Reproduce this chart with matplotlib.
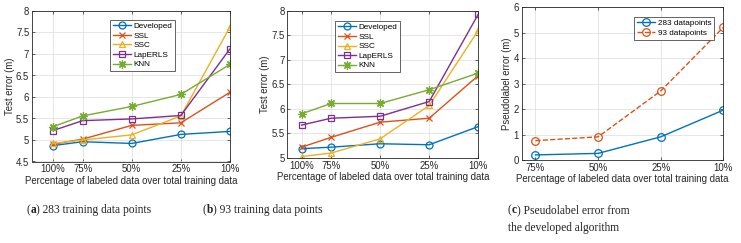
import matplotlib
matplotlib.use("Agg")
import matplotlib.pyplot as plt

# ---------------- data ----------------
labels_ab = ["100%", "75%", "50%", "25%", "10%"]
labels_c = ["75%", "50%", "25%", "10%"]
series_names = ["Developed", "SSL", "SSC", "LapERLS", "KNN"]

a_developed = [4.87, 4.96, 4.92, 5.13, 5.20]
a_ssl = [4.90, 5.02, 5.34, 5.40, 6.11]
a_ssc = [4.92, 5.00, 5.12, 5.56, 7.63]
a_laperls = [5.22, 5.45, 5.49, 5.57, 7.12]
a_knn = [5.31, 5.56, 5.78, 6.06, 6.76]

b_developed = [5.19, 5.22, 5.29, 5.27, 5.64]
b_ssl = [5.22, 5.42, 5.73, 5.81, 6.68]
b_ssc = [5.03, 5.10, 5.39, 6.07, 7.60]
b_laperls = [5.67, 5.81, 5.85, 6.15, 7.93]
b_knn = [5.90, 6.11, 6.11, 6.39, 6.73]

c_283 = [0.20, 0.26, 0.91, 1.96]
c_93 = [0.76, 0.91, 2.71, 5.21]

caption_letters = ["a", "b", "c"]
captions = ["283 training data points", "93 training data points",
            "Pseudolabel error from\nthe developed algorithm"]

# ---------------- style ----------------
plt.rcParams["font.family"] = ["Liberation Sans", "DejaVu Sans"]
colors = ["#0072BD", "#D95319", "#EDB120", "#7E2F8E", "#77AC30"]
markers = ["o", "x", "^", "s", (8, 2, 0)]
W, H = 741, 243
fig = plt.figure(figsize=(W / 100, H / 100), dpi=100)
TXT = "#262626"
FS = 6.9

def ax_px(l, t, r, b):
    return fig.add_axes([l / W, 1 - b / H, (r - l) / W, (b - t) / H])

def style(ax):
    for s in ax.spines.values():
        s.set_color(TXT)
        s.set_linewidth(0.6)
    ax.tick_params(direction="in", length=2, width=0.5, labelsize=FS,
                   colors=TXT, top=True, right=True, pad=2)
    ax.grid(True, color="#dcdcdc", linewidth=0.5)
    ax.set_axisbelow(True)
    ax.set_xlabel("Percentage of labeled data over total training data",
                  fontsize=FS, color=TXT, labelpad=1)

def legend(ax, **kw):
    leg = ax.legend(fontsize=5.9, frameon=True, fancybox=False, edgecolor=TXT,
                    borderpad=0.35, labelspacing=0.22, handlelength=2.2,
                    handletextpad=0.3, framealpha=1, **kw)
    leg.get_frame().set_linewidth(0.5)

def plot_panel(ax, xpos, data, labels):
    for name, vals, c, m in zip(series_names, data, colors, markers):
        ms = 5 if m != markers[4] else 6
        ax.plot(xpos, vals, color=c, marker=m, markersize=ms, markerfacecolor="none",
                markeredgewidth=0.9, linewidth=1.0, label=name)
    ax.set_xticks(xpos)
    ax.set_xticklabels(labels)

xab = [0, 0.6, 1.6, 2.6, 3.6]

# panel a
axa = ax_px(32, 11, 230, 161.5)
plot_panel(axa, xab, [a_developed, a_ssl, a_ssc, a_laperls, a_knn], labels_ab)
axa.set_xlim(-0.43, 3.6)
axa.set_ylim(4.5, 8)
axa.set_yticks([4.5, 5, 5.5, 6, 6.5, 7, 7.5, 8])
axa.set_yticklabels(["4.5", "5", "5.5", "6", "6.5", "7", "7.5", "8"])
axa.set_ylabel("Test error (m)", fontsize=FS, color=TXT, labelpad=1)
style(axa)
legend(axa, loc="upper left", bbox_to_anchor=(0.375, 0.97))

# panel b
axb = ax_px(287.3, 10.7, 478.3, 158)
plot_panel(axb, xab, [b_developed, b_ssl, b_ssc, b_laperls, b_knn], labels_ab)
axb.set_xlim(-0.29, 3.6)
axb.set_ylim(5, 8)
axb.set_yticks([5, 5.5, 6, 6.5, 7, 7.5, 8])
axb.set_yticklabels(["5", "5.5", "6", "6.5", "7", "7.5", "8"])
axb.set_ylabel("Test error (m)", fontsize=FS, color=TXT, labelpad=1)
style(axb)
legend(axb, loc="upper left", bbox_to_anchor=(0.23, 0.96))

# panel c
axc = ax_px(521.7, 7.3, 723.3, 160)
xc = [0, 1, 2, 3]
axc.plot(xc, c_283, color=colors[0], marker="o", markersize=5.5, markerfacecolor="none",
         markeredgewidth=0.9, linewidth=1.0, label="283 datapoints")
axc.plot(xc, c_93, color=colors[1], marker="o", markersize=5.5, markerfacecolor="none",
         markeredgewidth=0.9, linewidth=1.0, linestyle="--", label="93 datapoints")
axc.set_xticks(xc)
axc.set_xticklabels(labels_c)
axc.set_xlim(-0.22, 3.0)
axc.set_ylim(0, 6)
axc.set_yticks(range(0, 7))
axc.set_ylabel("Pseudolabel error (m)", fontsize=FS, color=TXT, labelpad=1)
style(axc)
legend(axc, loc="upper right", bbox_to_anchor=(0.975, 0.965))

# captions (built from separate text pieces so the letter can be bold)
serif = ["Liberation Serif", "DejaVu Serif"]
CFS = 8.3
cap_x = [27, 203, 508]
fig.canvas.draw()
renderer = fig.canvas.get_renderer()

def cap(x, y, letter, rest):
    t1 = fig.text(x / W, 1 - y / H, "(", fontsize=CFS, family=serif,
                  va="center", ha="left", color="#222222")
    bb = t1.get_window_extent(renderer)
    t2 = fig.text(bb.x1 / W, 1 - y / H, letter, fontsize=CFS, family=serif,
                  weight="bold", va="center", ha="left", color="#222222")
    bb = t2.get_window_extent(renderer)
    fig.text(bb.x1 / W, 1 - y / H, ") " + rest, fontsize=CFS, family=serif,
             va="center", ha="left", color="#222222")

for i in range(3):
    lines = captions[i].split("\n")
    cap(cap_x[i], 210, caption_letters[i], lines[0])
    for j, ln in enumerate(lines[1:]):
        fig.text(cap_x[i] / W, 1 - (228 + 18 * j) / H, ln, fontsize=CFS,
                 family=serif, va="center", ha="left", color="#222222")

fig.savefig("out.png", dpi=100, facecolor="white")
